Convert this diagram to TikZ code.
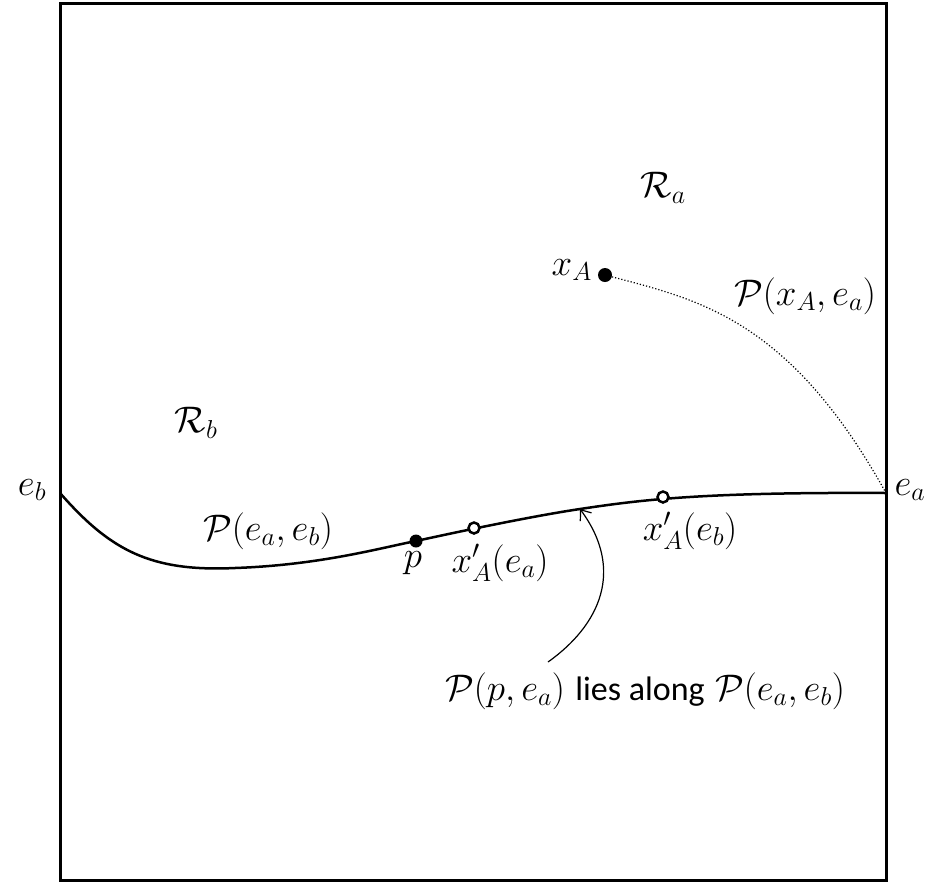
\RequirePackage{fix-cm}
\documentclass[tikz,border=0pt]{standalone}
\usepackage{fontspec}
\setmainfont{Carlito}
\usetikzlibrary{arrows.meta}
\begin{document}
\begin{tikzpicture}[x=1pt,y=-1pt,
  lbl/.style={font=\fontsize{37}{42}\selectfont, inner sep=0pt},
  fulldot/.style={circle, fill=black, minimum size=14pt, inner sep=0pt},
  opendot/.style={circle, draw=black, fill=white, line width=2.5pt, minimum size=11pt, inner sep=0pt}]
\useasboundingbox (0,0) rectangle (932,884);
\draw[line width=3pt] (60,3) rectangle (886,880);
\coordinate (eb) at (60,493);
\coordinate (ea) at (886,493);
\coordinate (mid) at (580,509);
\draw[line width=2.5pt] (eb) .. controls (110,550) and (150,572) .. (235,568)
  .. controls (320,565) and (380,548) .. (416,541)
  .. controls (480,527) and (540,515) .. (mid)
  .. controls (640,500) and (700,492) .. (ea);
\node[fulldot] (xA) at (605,275) {};
\draw[dotted, line width=1.2pt] (xA) .. controls (700,300) and (790,320) .. (ea);
\node[fulldot, minimum size=13pt] (p) at (416,541) {};
\node[opendot] (xa1) at (474,528) {};
\node[opendot] (xa2) at (663,497) {};
\coordinate (arrstart) at (548,662);
\draw[line width=1.2pt, -{Straight Barb[length=9pt,width=14pt]}] (arrstart) .. controls (600,625) and (625,570) .. (mid);
\node[lbl] (Leb) at (32,490) {$e_b$};
\node[lbl] (Lea) at (910,490) {$e_a$};
\node[lbl] (Ra) at (663,188) {$\mathcal{R}_a$};
\node[lbl] (Rb) at (196,423) {$\mathcal{R}_b$};
\node[lbl, anchor=east] (LxA) at (592,270) {$x_A$};
\node[lbl] (Pxa) at (805,296) {$\mathcal{P}(x_A,e_a)$};
\node[lbl] (Peab) at (268,531) {$\mathcal{P}(e_a,e_b)$};
\node[lbl] (Lp) at (413,563) {$p$};
\node[lbl] (Lx1) at (500,563) {$x'_A(e_a)$};
\node[lbl] (Lx2) at (690,531) {$x'_A(e_b)$};
\node[lbl] (note) at (645,691) {$\mathcal{P}(p,e_a)$\;{\fontsize{34}{40}\selectfont lies along}\;$\mathcal{P}(e_a,e_b)$};
\end{tikzpicture}
\end{document}
